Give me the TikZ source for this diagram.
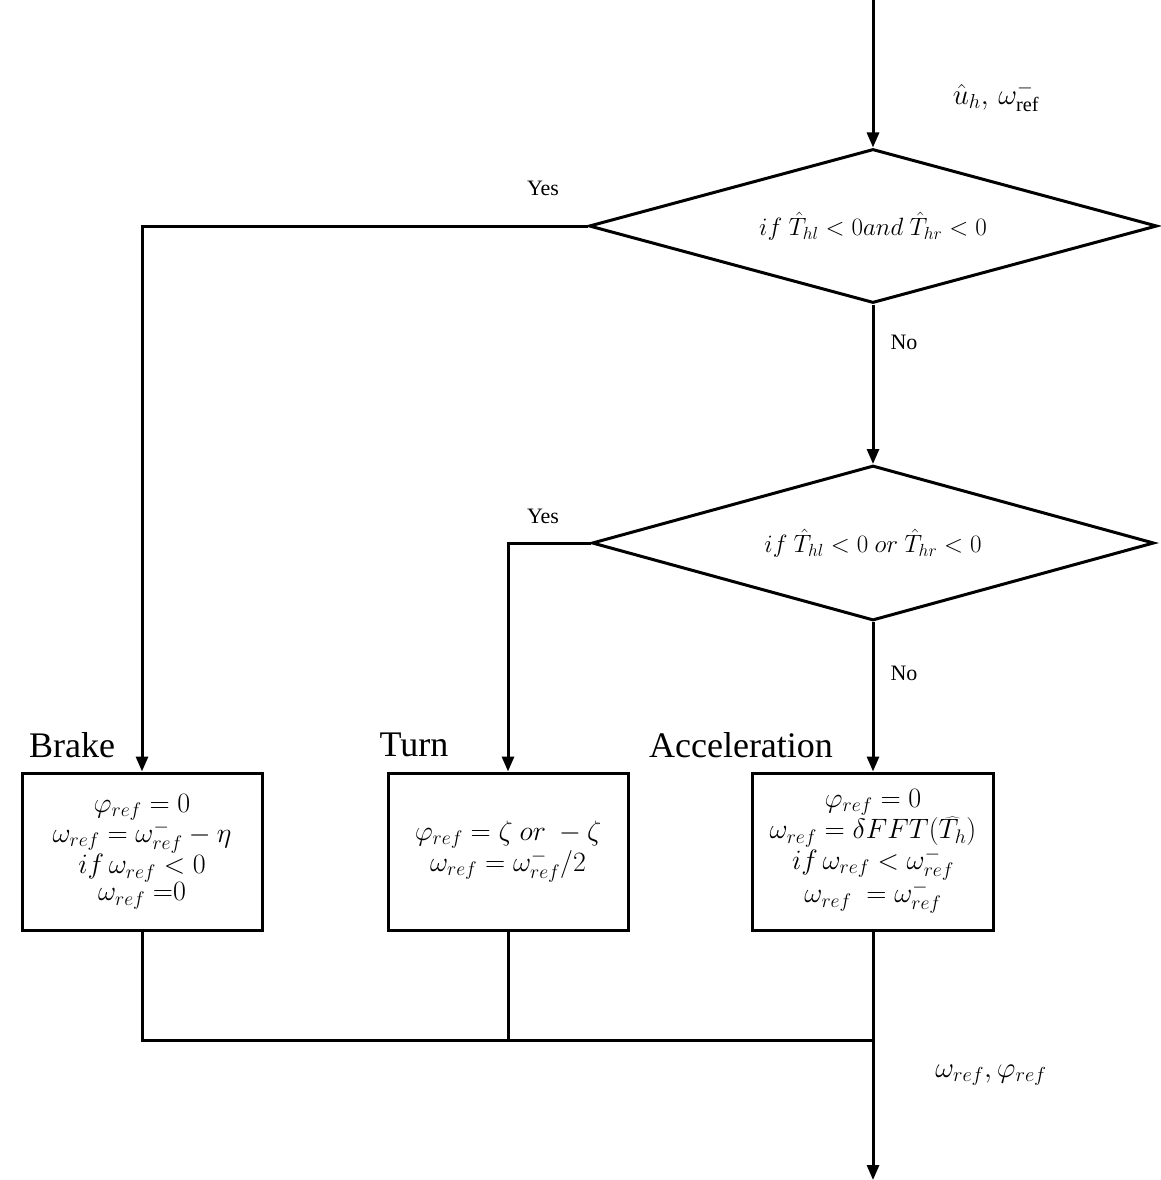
\documentclass[tikz,border=0pt]{standalone}
\usepackage{fix-cm}
\usepackage{fontspec}
\setmainfont{Liberation Serif}
\usetikzlibrary{shapes.geometric,arrows.meta}
\begin{document}
\begin{tikzpicture}[x=1pt,y=-1pt,
  line/.style={line width=3pt},
  arr/.style={line, -{Triangle[length=15pt,width=12pt]}},
  dec/.style={draw, line width=3pt, diamond, inner sep=0pt, font=\fontsize{25}{29}\selectfont},
  proc/.style={draw, line width=3pt, rectangle, minimum width=240pt, minimum height=157pt, align=center, inner sep=0pt, font=\fontsize{28}{27}\selectfont},
  lab/.style={font=\fontsize{22}{26}\selectfont},
  big/.style={font=\fontsize{36}{40}\selectfont},
  mlab/.style={font=\fontsize{29}{30}\selectfont}]
\useasboundingbox (0,0) rectangle (1161,1180);
\node[dec, shape aspect=3.69, minimum width=568pt, minimum height=154pt] (d1) at (873,226) {$if\ \hat{T}_{hl}<0 and\ \hat{T}_{hr}<0$};
\node[dec, shape aspect=3.63, minimum width=562pt, minimum height=155pt] (d2) at (873,543) {$if\ \hat{T}_{hl}<0\ or\ \hat{T}_{hr}<0$};
\node[proc] (brake) at (142,851.5) {$\varphi_{ref}=0$\\ $\omega_{ref}=\omega^{-}_{ref}-\eta$\\ $if\,\omega_{ref}<0$\\ $\omega_{ref}\;{=}0$};
\node[proc] (turn) at (508,851.5) {$\varphi_{ref}=\zeta\ or\ -\zeta$\\ $\omega_{ref}=\omega^{-}_{ref}/2$};
\node[proc, minimum width=241pt] (acc) at (873,851.5) {$\varphi_{ref}=0$\\ $\omega_{ref}=\delta FFT\bigl(\widehat{T_h}\bigr)$\\ $if\,\omega_{ref}<\omega^{-}_{ref}$\\ $\omega_{ref}\ =\omega^{-}_{ref}$};
\node[big] (lbrake) at (72,745) {Brake};
\node[big] (lturn) at (414,745) {Turn};
\node[big] (lacc) at (741,745) {Acceleration};
\node[lab] (yes1) at (543,188) {Yes};
\node[lab] (no1) at (904,342) {No};
\node[lab] (yes2) at (543,516) {Yes};
\node[lab] (no2) at (904,673) {No};
\node[mlab] (inlab) at (996,97) {$\hat{u}_h,\,\omega^{-}_{\mathrm{ref}}$};
\node[mlab] (outlab) at (991,1075) {$\omega_{ref},\varphi_{ref}$};
\coordinate (top) at (873,0);
\coordinate (j) at (873,1040);
\coordinate (bot) at (873,1180);
\draw[arr] (top) -- (d1.north);
\draw[arr] (d1.west) -| (brake.north);
\draw[arr] (d1.south) -- (d2.north);
\draw[arr] (d2.west) -| (turn.north);
\draw[arr] (d2.south) -- (acc.north);
\draw[line] (brake.south) |- (j);
\draw[line] (turn.south) -- (turn.south |- j);
\draw[line] (acc.south) -- (j);
\draw[arr] (j) -- (bot);
\end{tikzpicture}
\end{document}
